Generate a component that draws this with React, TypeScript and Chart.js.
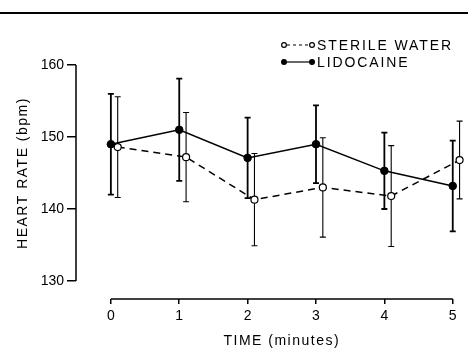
import { useEffect, useRef } from "react";
import { Chart, registerables } from "chart.js";
Chart.register(...registerables);

const FONT = "'Liberation Sans', Arial, Helvetica, sans-serif";
const INK = "#000";

const times = [0, 1, 2, 3, 4, 5];
const lidoMean = [149.0, 151.0, 147.1, 149.0, 145.3, 143.2];
const lidoSD = [7.0, 7.1, 5.6, 5.4, 5.3, 6.3];
const waterMean = [148.6, 147.2, 141.3, 143.0, 141.8, 146.8];
const waterSD = [7.0, 6.2, 6.4, 6.9, 7.0, 5.4];
const waterOffset = 0.1;
const xTicks = [0, 1, 2, 3, 4, 5];
const yTicks = [130, 140, 150, 160];
const xTitle = "TIME (minutes)";
const yTitle = "HEART RATE (bpm)";
const legendLabels = ["STERILE WATER", "LIDOCAINE"];

const errorBars = {
  id: "errorBars",
  beforeDatasetsDraw(chart: any) {
    const ctx = chart.ctx;
    const xs = chart.scales.x;
    const ys = chart.scales.y;
    const sets = [
      { xs: times, mean: lidoMean, sd: lidoSD, off: 0, w: 1.8 },
      { xs: times, mean: waterMean, sd: waterSD, off: waterOffset, w: 1.1 },
    ];
    ctx.save();
    ctx.strokeStyle = INK;
    sets.forEach((s) => {
      ctx.lineWidth = s.w;
      s.xs.forEach((t, i) => {
        const px = xs.getPixelForValue(t + s.off);
        const top = ys.getPixelForValue(s.mean[i] + s.sd[i]);
        const bot = ys.getPixelForValue(s.mean[i] - s.sd[i]);
        ctx.beginPath();
        ctx.moveTo(px, top);
        ctx.lineTo(px, bot);
        ctx.moveTo(px - 3, top);
        ctx.lineTo(px + 3, top);
        ctx.moveTo(px - 3, bot);
        ctx.lineTo(px + 3, bot);
        ctx.stroke();
      });
    });
    ctx.restore();
  },
};

const decor = {
  id: "decor",
  afterDraw(chart: any) {
    const ctx = chart.ctx;
    const xs = chart.scales.x;
    const ys = chart.scales.y;
    const area = chart.chartArea;
    ctx.save();
    ctx.strokeStyle = INK;
    ctx.fillStyle = INK;
    // top rule
    ctx.lineWidth = 2;
    ctx.beginPath();
    ctx.moveTo(0, 13);
    ctx.lineTo(468, 13);
    ctx.stroke();
    ctx.lineWidth = 1.5;
    // y axis line
    ctx.beginPath();
    ctx.moveTo(area.left, ys.getPixelForValue(yTicks[yTicks.length - 1]));
    ctx.lineTo(area.left, ys.getPixelForValue(yTicks[0]));
    ctx.stroke();
    // x axis line
    ctx.beginPath();
    ctx.moveTo(xs.getPixelForValue(xTicks[0]), area.bottom);
    ctx.lineTo(xs.getPixelForValue(xTicks[xTicks.length - 1]), area.bottom);
    ctx.stroke();

    ctx.font = `14px ${FONT}`;
    (ctx as any).letterSpacing = "1.5px";
    ctx.textBaseline = "alphabetic";
    // x title
    ctx.textAlign = "center";
    const xc = (xs.getPixelForValue(xTicks[0]) + xs.getPixelForValue(xTicks[xTicks.length - 1])) / 2;
    ctx.fillText(xTitle, xc, 345);
    // y title
    const yc = (ys.getPixelForValue(yTicks[0]) + ys.getPixelForValue(yTicks[yTicks.length - 1])) / 2;
    ctx.save();
    ctx.translate(27, yc);
    ctx.rotate(-Math.PI / 2);
    ctx.fillText(yTitle, 0, 0);
    ctx.restore();

    // legend
    (ctx as any).letterSpacing = "1.9px";
    ctx.textAlign = "left";
    const rows = [45, 62];
    rows.forEach((y, r) => {
      ctx.lineWidth = 1.2;
      ctx.setLineDash(r === 0 ? [3, 3] : []);
      ctx.beginPath();
      ctx.moveTo(287, y);
      ctx.lineTo(309, y);
      ctx.stroke();
      ctx.setLineDash([]);
      [284, 312].forEach((cx) => {
        ctx.beginPath();
        ctx.arc(cx, y, 2.4, 0, Math.PI * 2);
        ctx.fillStyle = r === 0 ? "#fff" : INK;
        ctx.fill();
        ctx.stroke();
      });
      ctx.fillStyle = INK;
      ctx.fillText(legendLabels[r], 317, y + 5);
    });
    ctx.restore();
  },
};

export default function App() {
  const ref = useRef<HTMLCanvasElement>(null);
  useEffect(() => {
    const chart = new Chart(ref.current!, {
      type: "line",
      data: {
        datasets: [
          {
            label: legendLabels[1],
            data: times.map((t, i) => ({ x: t, y: lidoMean[i] })),
            borderColor: INK,
            borderWidth: 1.5,
            pointRadius: 3.8,
            pointBackgroundColor: INK,
            pointBorderColor: INK,
            pointBorderWidth: 1,
            clip: false,
          } as any,
          {
            label: legendLabels[0],
            data: times.map((t, i) => ({ x: t + waterOffset, y: waterMean[i] })),
            borderColor: INK,
            borderWidth: 1.5,
            borderDash: [7, 5],
            pointRadius: 3.5,
            pointBackgroundColor: "#fff",
            pointBorderColor: INK,
            pointBorderWidth: 1.2,
            clip: false,
          } as any,
        ],
      },
      options: {
        responsive: false,
        animation: false,
        layout: { padding: { top: 65, right: 9, left: 0, bottom: 0 } },
        plugins: { legend: { display: false }, tooltip: { enabled: false } },
        scales: {
          x: {
            type: "linear",
            min: -0.51,
            max: 5.15,
            afterBuildTicks: (s: any) => {
              s.ticks = xTicks.map((v) => ({ value: v }));
            },
            afterFit: (s: any) => {
              s.height = 50;
            },
            grid: { drawOnChartArea: false, drawTicks: true, tickLength: 5, color: INK, lineWidth: 1.5 },
            border: { display: false },
            ticks: { font: { size: 14, family: FONT }, color: INK, padding: 4, maxRotation: 0, autoSkip: false },
          },
          y: {
            type: "linear",
            min: 127.5,
            max: 160,
            afterBuildTicks: (s: any) => {
              s.ticks = yTicks.map((v) => ({ value: v }));
            },
            afterFit: (s: any) => {
              s.width = 76;
            },
            grid: { drawOnChartArea: false, drawTicks: true, tickLength: 9, color: INK, lineWidth: 1.5 },
            border: { display: false },
            ticks: { font: { size: 14, family: FONT }, color: INK, padding: 3, autoSkip: false },
          },
        },
      } as any,
      plugins: [errorBars, decor],
    });
    return () => chart.destroy();
  }, []);
  return (
    <canvas
      ref={ref}
      width={472}
      height={349}
      style={{ position: "fixed", left: 0, top: 0, width: 472, height: 349, background: "#fff" }}
    />
  );
}
